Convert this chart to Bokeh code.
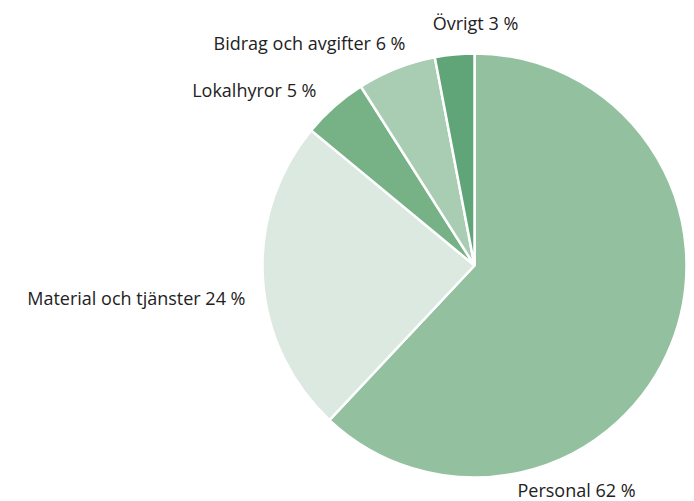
import math
from bokeh.plotting import figure
from bokeh.models import Range1d, ColumnDataSource
from bokeh.core.properties import value
from bokeh.embed import file_html
from bokeh.resources import INLINE

categories = ["Personal", "Material och tjänster", "Lokalhyror", "Bidrag och avgifter", "Övrigt"]
shares = [62, 24, 5, 6, 3]
colors = ["#93c09f", "#dce9e0", "#77b287", "#a8cdb3", "#5fa578"]

# label layout (pixel positions, top-left origin) and alignment
label_pos = [(517, 489), (245, 297), (316, 89), (405, 42), (475, 22)]
label_align = ["left", "right", "right", "right", "center"]

W, H = 694, 501
cx, cy, R = 474, 265, 212

p = figure(width=W, height=H, output_backend="svg", toolbar_location=None,
           x_range=Range1d(0, W), y_range=Range1d(0, H))
p.axis.visible = False
p.grid.visible = False
p.outline_line_color = None
p.min_border = 0
p.background_fill_color = "white"

total = sum(shares)
starts, ends = [], []
acc = 0.0
for s in shares:
    a0 = math.pi / 2 - 2 * math.pi * acc / total
    acc += s
    a1 = math.pi / 2 - 2 * math.pi * acc / total
    starts.append(a1)
    ends.append(a0)

src = ColumnDataSource(dict(start=starts, end=ends, color=colors))
p.wedge(x=cx, y=H - cy, radius=R, start_angle="start", end_angle="end",
        fill_color="color", line_color="white", line_width=2.5, source=src)

labels = [f"{c} {s} %" for c, s in zip(categories, shares)]
tsrc = ColumnDataSource(dict(x=[q[0] for q in label_pos], y=[H - q[1] for q in label_pos],
                             text=labels, align=label_align))
p.text(x="x", y="y", text="text", text_align="align", text_baseline="middle",
       text_font=value("Open Sans"), text_font_size="18px", text_color="#222222", source=tsrc)

open("out.html", "w").write(file_html(p, INLINE))
